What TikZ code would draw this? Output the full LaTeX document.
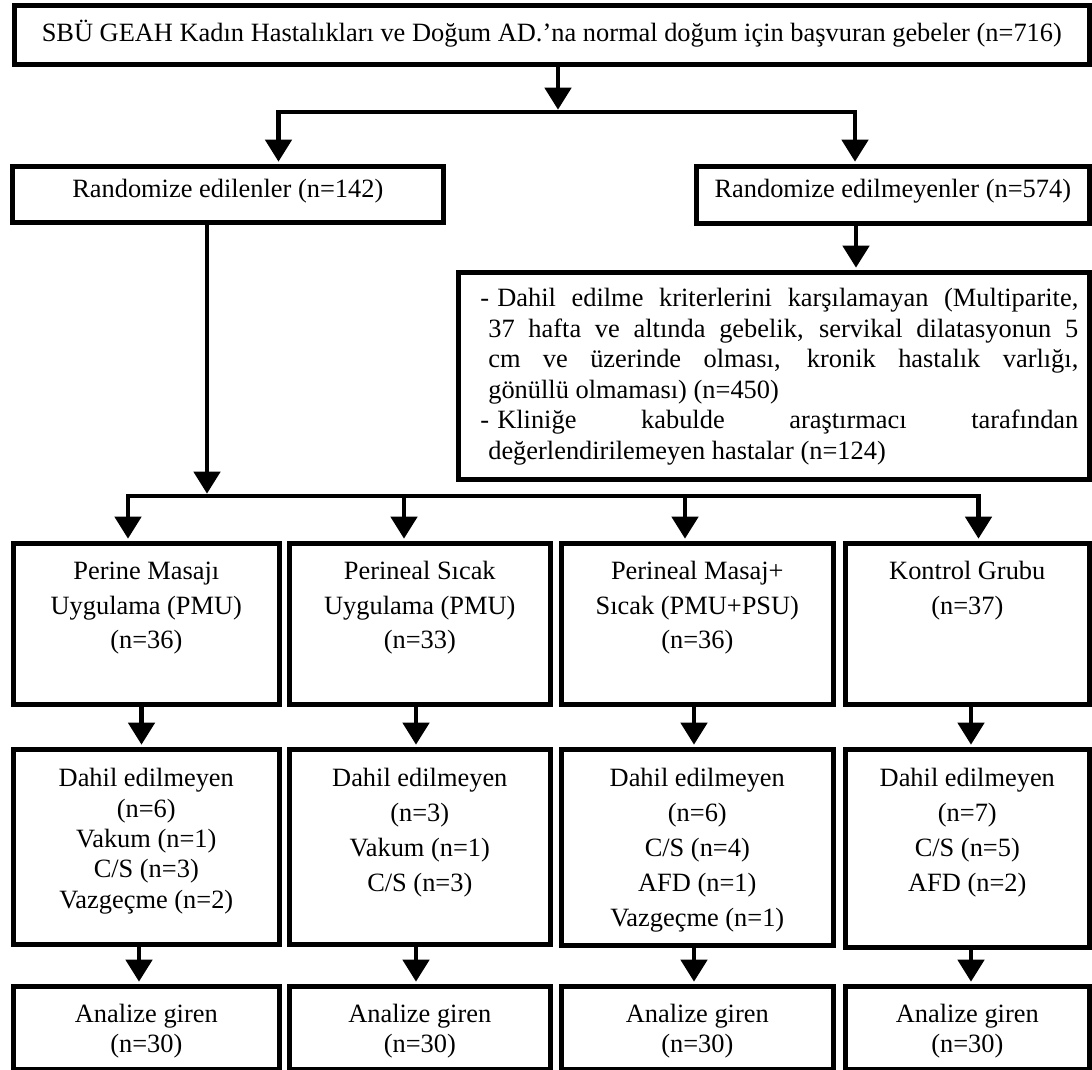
\documentclass[tikz,border=0pt]{standalone}
\usepackage{fontspec}
\setmainfont{Liberation Serif}
\usetikzlibrary{arrows.meta}
\newcommand{\bt}[5]{\parbox[t][#2pt][t]{#1pt}{\centering\fontsize{26.4}{#4}\selectfont\vspace*{#3pt}\strut #5}}
\tikzset{
  box/.style={draw, line width=4.6pt, inner sep=0pt, anchor=north west},
  ln/.style={line width=4.6pt},
  arr/.style={line width=4.6pt, -{Triangle[length=22pt,width=26pt]}, shorten >=2.3pt},
}
\begin{document}
\begin{tikzpicture}[x=1pt,y=-1pt]
\useasboundingbox[fill=white] (0,0) rectangle (1092,1070);

% top
\node[box] (top) at (12,3) {\bt{1075}{59}{15.3}{26}{SBÜ GEAH Kadın Hastalıkları ve Doğum AD.’na normal doğum için başvuran gebeler (n=716)}};
\node[box] (A) at (10,164) {\bt{431}{56}{13.3}{26}{Randomize edilenler (n=142)}};
\node[box] (B) at (694,164) {\bt{393}{57}{13.3}{26}{Randomize edilmeyenler (n=574)}};

% exclusion box
\node[box] (ex) at (456,270) {\parbox[t][207pt][t]{631pt}{\fontsize{26.4}{30.5}\selectfont\leftskip=22pt\rightskip=11pt\parindent=0pt\parskip=0pt\vspace*{13.15pt}%
\hangindent=8pt\hangafter=1\strut\makebox[17pt][l]{-}Dahil edilme kriterlerini karşılamayan (Multiparite,\linebreak
37 hafta ve altında gebelik, servikal dilatasyonun 5\linebreak
cm ve üzerinde olması, kronik hastalık varlığı,\linebreak
gönüllü olmaması) (n=450)\par
\hangindent=8pt\hangafter=1\strut\makebox[17pt][l]{-}Kliniğe kabulde araştırmacı tarafından\linebreak
değerlendirilemeyen hastalar (n=124)\par}};

% row 1
\node[box] (p1) at (11,541) {\bt{266}{161}{12.35}{34.5}{Perine Masajı\\Uygulama (PMU)\\(n=36)}};
\node[box] (p2) at (287,541) {\bt{261}{161}{12.35}{34.5}{Perineal Sıcak\\Uygulama (PMU)\\(n=33)}};
\node[box] (p3) at (559,541) {\bt{272}{161}{12.35}{34.5}{Perineal Masaj+\\Sıcak (PMU+PSU)\\(n=36)}};
\node[box] (p4) at (843,541) {\bt{244}{161}{12.35}{34.5}{Kontrol Grubu\\(n=37)}};

% row 2
\node[box] (d1) at (11,747) {\bt{266}{195}{16.3}{30.3}{Dahil edilmeyen\\(n=6)\\Vakum (n=1)\\C/S (n=3)\\Vazgeçme (n=2)}};
\node[box] (d2) at (287,747) {\bt{261}{195}{13}{35}{Dahil edilmeyen\\(n=3)\\Vakum (n=1)\\C/S (n=3)}};
\node[box] (d3) at (559,747) {\bt{272}{196}{13}{35}{Dahil edilmeyen\\(n=6)\\C/S (n=4)\\AFD (n=1)\\Vazgeçme (n=1)}};
\node[box] (d4) at (843,747) {\bt{244}{198}{13}{35}{Dahil edilmeyen\\(n=7)\\C/S (n=5)\\AFD (n=2)}};

% row 3
\node[box] (a1) at (11,984) {\bt{266}{83}{15.5}{30}{Analize giren\\(n=30)}};
\node[box] (a2) at (287,984) {\bt{261}{83}{15.5}{30}{Analize giren\\(n=30)}};
\node[box] (a3) at (559,984) {\bt{272}{83}{15.5}{30}{Analize giren\\(n=30)}};
\node[box] (a4) at (843,984) {\bt{244}{83}{15.5}{30}{Analize giren\\(n=30)}};

% connectors top
\coordinate (j1) at (558,112);
\coordinate (j1l) at (278.5,112);
\coordinate (j1r) at (855,112);
\draw[arr] (top.south -| j1) -- (j1);
\draw[arr] (j1) -| (A.north -| j1l);
\draw[arr] (j1) -| (B.north -| j1r);

\coordinate (k) at (856,0);
\draw[arr] (B.south -| k) -- (ex.north -| k);

\coordinate (j2) at (207,496);
\coordinate (j2a) at (128,496);
\coordinate (j2b) at (404,496);
\coordinate (j2c) at (685,496);
\coordinate (j2d) at (978.5,496);
\draw[arr] (A.south -| j2) -- (j2);
\draw[arr] (j2) -| (p1.north -| j2a);
\draw[arr] (j2) -| (p4.north -| j2d);
\draw[arr] (j2b) -- (p2.north -| j2b);
\draw[arr] (j2c) -- (p3.north -| j2c);

% row1 -> row2
\coordinate (c1) at (141.5,0);
\coordinate (c2) at (416,0);
\coordinate (c3) at (694,0);
\coordinate (c4) at (971,0);
\coordinate (e1) at (139,0);
\draw[arr] (p1.south -| c1) -- (d1.north -| c1);
\draw[arr] (p2.south -| c2) -- (d2.north -| c2);
\draw[arr] (p3.south -| c3) -- (d3.north -| c3);
\draw[arr] (p4.south -| c4) -- (d4.north -| c4);
% row2 -> row3
\draw[arr] (d1.south -| e1) -- (a1.north -| e1);
\draw[arr] (d2.south -| c2) -- (a2.north -| c2);
\draw[arr] (d3.south -| c3) -- (a3.north -| c3);
\draw[arr] (d4.south -| c4) -- (a4.north -| c4);
\end{tikzpicture}
\end{document}
